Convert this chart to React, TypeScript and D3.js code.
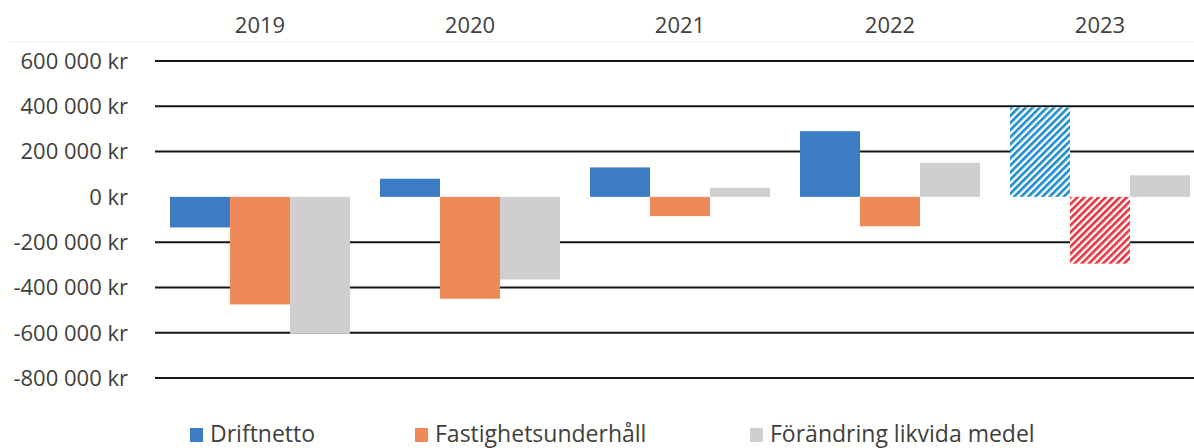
import React from "react";
import * as d3 from "d3";

const years = ["2019", "2020", "2021", "2022", "2023"];
const seriesNames = ["Driftnetto", "Fastighetsunderhåll", "Förändring likvida medel"];
const driftnetto = [-135000, 80000, 130000, 290000, 395000];
const fastighetsunderhall = [-475000, -450000, -85000, -130000, -295000];
const forandringLikvida = [-605000, -365000, 40000, 150000, 95000];
const yTicks = [600000, 400000, 200000, 0, -200000, -400000, -600000, -800000];
// which cells are drawn hatched (forecast)
const hatched = [
  [false, false, false, false, true],
  [false, false, false, false, true],
  [false, false, false, false, false],
];

const W = 1194;
const H = 448;
const FONT = "'Open Sans', 'Liberation Sans', sans-serif";
const TEXT = "#404040";
const solidColors = ["#3b7cc4", "#ef895a", "#cfcfcf"];
const hatchColors = ["#1b8bd0", "#e6313f", "#cfcfcf"];

const locale = d3.formatLocale({
  decimal: ",",
  thousands: "\u00a0",
  grouping: [3],
  currency: ["", " kr"],
  minus: "-",
});
const fmt = locale.format(",d");
const fmtKr = (v: number) => `${fmt(v)} kr`;

export default function App() {
  const series = [driftnetto, fastighetsunderhall, forandringLikvida];
  const x = d3.scaleBand<string>().domain(years).range([155, 1205]).paddingInner(1 / 7).paddingOuter(1 / 14);
  const xi = d3.scaleBand<number>().domain([0, 1, 2]).range([0, x.bandwidth()]).padding(0);
  const y = d3.scaleLinear().domain([-800000, 600000]).range([378, 61]);

  const legendX = [190, 415, 750];

  return (
    <div style={{ position: "fixed", left: 0, top: 0 }}>
      <svg width={W} height={H} style={{ display: "block", background: "#fffffd" }}>
        <defs>
          {hatchColors.map((c, i) => (
            <pattern
              key={i}
              id={`hatch${i}`}
              patternUnits="userSpaceOnUse"
              width={5}
              height={5}
              patternTransform="rotate(45)"
            >
              <rect x={0} y={0} width={5} height={5} fill="#ffffff" />
              <rect x={0} y={0} width={2.6} height={5} fill={c} />
            </pattern>
          ))}
        </defs>

        {/* faint top axis line */}
        <line x1={10} x2={W} y1={42} y2={42} stroke="#e3f2f5" strokeWidth={1} />

        {/* year labels */}
        {years.map((yr) => (
          <text
            key={yr}
            x={(x(yr) as number) + x.bandwidth() / 2}
            y={33}
            textAnchor="middle"
            fontFamily={FONT}
            fontSize={22}
            fill={TEXT}
          >
            {yr}
          </text>
        ))}

        {/* gridlines (no zero line) */}
        {yTicks
          .filter((t) => t !== 0)
          .map((t) => (
            <line key={t} x1={155} x2={W} y1={y(t)} y2={y(t)} stroke="#161616" strokeWidth={2} />
          ))}

        {/* y tick labels */}
        {yTicks.map((t) => (
          <text
            key={t}
            x={128}
            y={y(t)}
            dy="0.36em"
            textAnchor="end"
            fontFamily={FONT}
            fontSize={22}
            fill={TEXT}
          >
            {fmtKr(t)}
          </text>
        ))}

        {/* bars */}
        {series.map((vals, si) =>
          vals.map((v, yi) => {
            const bx = (x(years[yi]) as number) + (xi(si) as number);
            const y0 = y(Math.max(0, v));
            const h = Math.abs(y(v) - y(0));
            return (
              <rect
                key={`${si}-${yi}`}
                x={bx}
                y={y0}
                width={xi.bandwidth()}
                height={h}
                fill={hatched[si][yi] ? `url(#hatch${si})` : solidColors[si]}
              />
            );
          })
        )}

        {/* legend */}
        {seriesNames.map((name, i) => (
          <g key={name}>
            <rect x={legendX[i]} y={428} width={13} height={14} fill={solidColors[i]} />
            <text x={legendX[i] + 20} y={442} fontFamily={FONT} fontSize={23} fill={TEXT}>
              {name}
            </text>
          </g>
        ))}
      </svg>
    </div>
  );
}
